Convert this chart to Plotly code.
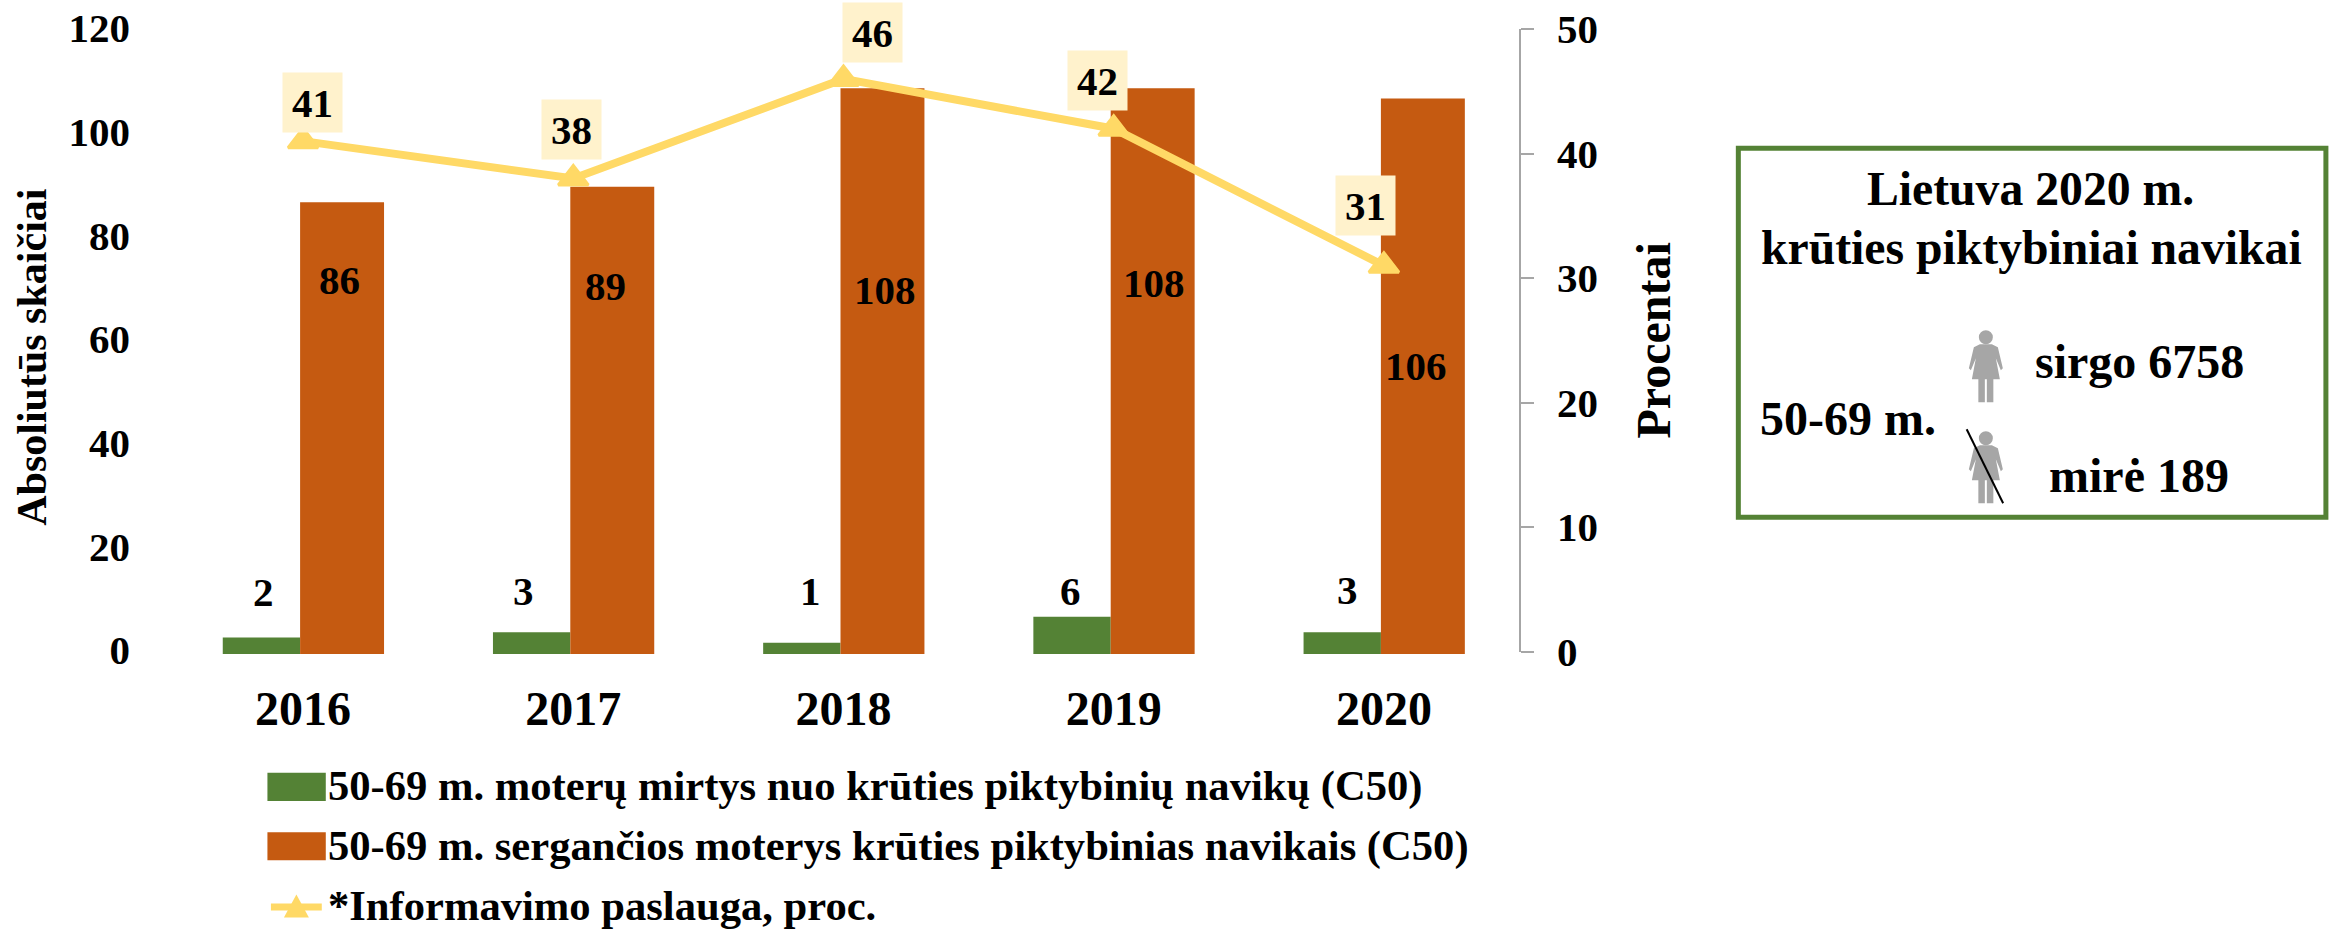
import plotly.graph_objects as go

YEARS = ["2016", "2017", "2018", "2019", "2020"]
DEATHS = [2, 3, 1, 6, 3]
CASES = [86, 89, 108, 108, 106]
INFORMED = [41, 38, 46, 42, 31]
NAME_DEATHS = "50-69 m. moterų mirtys nuo krūties piktybinių navikų (C50)"
NAME_CASES = "50-69 m. sergančios moterys krūties piktybinias navikais (C50)"
NAME_INFO = "*Informavimo paslauga, proc."
LEFT_TITLE = "Absoliutūs skaičiai"
RIGHT_TITLE = "Procentai"

# label centres, figure pixels
DEATH_POS = [(263, 592), (523, 591), (810, 591), (1071, 591), (1348, 590)]
CASE_POS = [(339, 280), (605, 286), (885, 290), (1154, 283), (1416, 366)]
INFO_POS = [(312, 102.5), (571, 129), (873, 32), (1098, 80), (1366, 205)]

GREEN, ORANGE, YELLOW, PALE, GREY = "#548235", "#C55A11", "#FFD966", "#FFF2CC", "#A6A6A6"
FONT = "Liberation Serif"
W, H = 2338, 929
L, R, T, B = 167.5, 1519.5, 25.9, 653.7
SLOT = (R - L) / 5
BAR_FLOOR = -1.178  # the bars run a little below the zero of the axis


def px(x):
    return (x - L) / (R - L)


def py(y):
    return (B - y) / (B - T)


def note(text, x, y, size, anchor="center", **kw):
    return dict(text="<b>%s</b>" % text, x=px(x), y=py(y), xref="paper", yref="paper",
                xanchor=anchor, yanchor="middle", showarrow=False,
                font=dict(family=FONT, size=size, color="black"), **kw)


def rect(x0, y0, x1, y1, color):
    return dict(type="rect", xref="paper", yref="paper", x0=px(x0), x1=px(x1), y0=py(y0), y1=py(y1),
                fillcolor=color, line_width=0, layer="above")


def poly(points, color):
    d = "M" + " L".join("%.5f,%.5f" % (px(a), py(b)) for a, b in points) + " Z"
    return dict(type="path", xref="paper", yref="paper", path=d, fillcolor=color, line_width=0)


def person(cx, top):
    outline = [(-6, 24), (6, 24), (12, 27), (17, 48), (15, 50), (10, 38), (14, 59), (7.5, 59), (7.5, 82),
               (1, 82), (1, 59), (-1, 59), (-1, 82), (-7.5, 82), (-7.5, 59), (-14, 59), (-10, 38),
               (-15, 50), (-17, 48), (-12, 27)]
    head = dict(type="circle", xref="paper", yref="paper", x0=px(cx - 7), x1=px(cx + 7),
                y0=py(top + 24), y1=py(top + 10), fillcolor=GREY, line_width=0)
    return [head, poly([(cx + a, top + b) for a, b in outline], GREY)]


fig = go.Figure()
fig.add_bar(x=YEARS, y=[v - BAR_FLOOR for v in DEATHS], base=BAR_FLOOR, name=NAME_DEATHS,
            marker=dict(color=GREEN, line_width=0),
            offset=-80.4 / SLOT, width=77.4 / SLOT, yaxis="y")
fig.add_bar(x=YEARS, y=[v - BAR_FLOOR for v in CASES], base=BAR_FLOOR, name=NAME_CASES,
            marker=dict(color=ORANGE, line_width=0),
            offset=-3 / SLOT, width=84 / SLOT, yaxis="y")
fig.add_scatter(x=YEARS, y=INFORMED, name=NAME_INFO, yaxis="y2", mode="lines+markers", cliponaxis=False,
                line=dict(color=YELLOW, width=8),
                marker=dict(symbol="triangle-up", size=26, color=YELLOW, line=dict(color=YELLOW, width=3)))

annotations = []
for v, (x, y) in zip(DEATHS, DEATH_POS):
    annotations.append(note(str(v), x, y, 41))
for v, (x, y) in zip(CASES, CASE_POS):
    annotations.append(note(str(v), x, y, 41))
for v, (x, y) in zip(INFORMED, INFO_POS):
    annotations.append(note(str(v), x, y, 41, bgcolor=PALE, width=57, height=57))
annotations.append(note(LEFT_TITLE, 32, 357, 42, textangle=-90))
annotations.append(note(RIGHT_TITLE, 1654, 340, 48, textangle=-90))
annotations.append(note(NAME_DEATHS, 326, 786, 42.6, anchor="left"))
annotations.append(note(NAME_CASES, 326, 846, 42.6, anchor="left"))
annotations.append(note(NAME_INFO, 326, 905, 42.6, anchor="left"))
annotations.append(note("Lietuva 2020 m.", 2031, 188, 47.7))
annotations.append(note("krūties piktybiniai navikai", 2032, 247, 47.7))
annotations.append(note("50-69 m.", 1759, 418, 48, anchor="left"))
annotations.append(note("sirgo 6758", 2034, 361, 48, anchor="left"))
annotations.append(note("mirė 189", 2048, 475, 48, anchor="left"))

shapes = [
    rect(267, 772.3, 325.4, 800.7, GREEN),
    rect(267, 832, 325.4, 860, ORANGE),
    rect(270.5, 903, 321.4, 910, YELLOW),
    dict(poly([(283.5, 917), (308.5, 917), (296, 894)], YELLOW), layer="above"),
    dict(type="rect", xref="paper", yref="paper", x0=px(1739), x1=px(2327), y0=py(148), y1=py(517),
         line=dict(color=GREEN, width=5), fillcolor="white", layer="below"),
] + person(1986.7, 320) + person(1986.7, 421) + [
    dict(type="line", xref="paper", yref="paper", x0=px(1967.5), x1=px(2004), y0=py(429), y1=py(503),
         line=dict(color="black", width=2), layer="above"),
]

axis_font = dict(family=FONT, size=41, color="black", weight="bold")
fig.update_layout(
    width=W, height=H, margin=dict(l=L, r=W - R, t=T, b=H - B, pad=0, autoexpand=False),
    paper_bgcolor="white", plot_bgcolor="rgba(0,0,0,0)", barmode="overlay", showlegend=False,
    xaxis=dict(type="category", range=[-0.5, 4.5], showgrid=False, zeroline=False, showline=False, ticks="",
               tickfont=dict(family=FONT, size=48, color="black", weight="bold"), ticklabelstandoff=22),
    yaxis=dict(range=[BAR_FLOOR, 120], tickvals=[0, 20, 40, 60, 80, 100, 120], showgrid=False, zeroline=False,
               showline=False, ticks="", tickfont=axis_font, ticklabelstandoff=37, ticklabelshift=2),
    yaxis2=dict(range=[0, 50], tickvals=[0, 10, 20, 30, 40, 50], domain=[py(651.3), py(29)], anchor="x",
                side="right", showgrid=False, zeroline=False, showline=True, linecolor=GREY, linewidth=1.5,
                ticks="outside", ticklen=13, tickwidth=1.5, tickcolor=GREY, tickfont=axis_font,
                ticklabelstandoff=15),
    annotations=annotations, shapes=shapes,
)
fig.write_html("out.html", config=dict(displayModeBar=False), post_script="document.body.style.margin='0';")
